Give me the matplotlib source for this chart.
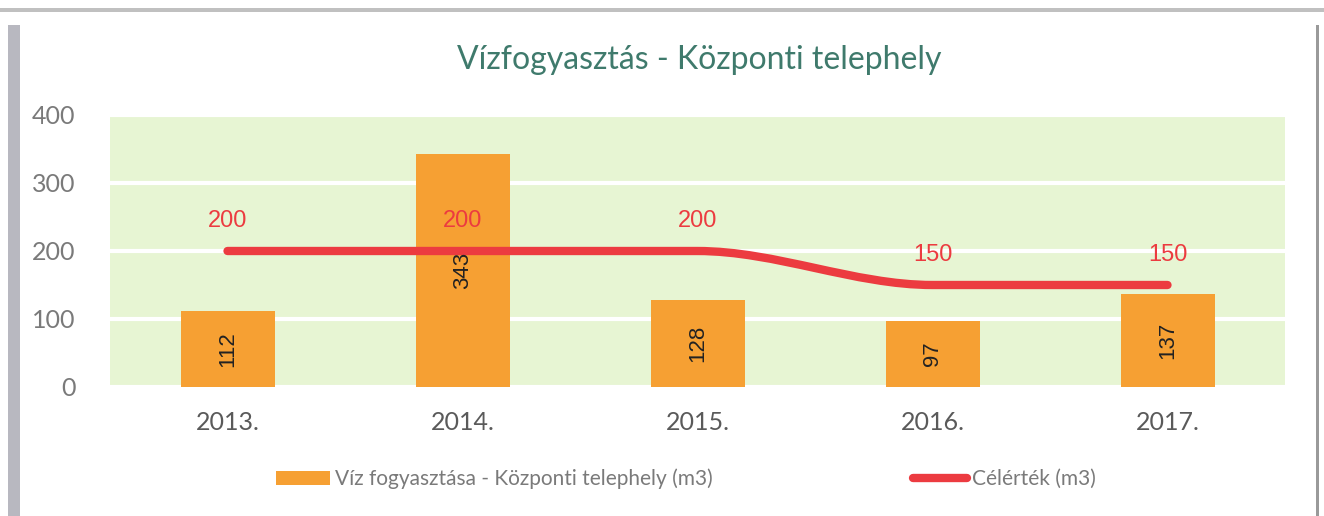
import matplotlib
matplotlib.use("Agg")
import matplotlib.pyplot as plt
from matplotlib.path import Path
from matplotlib.patches import PathPatch, Rectangle
from matplotlib.lines import Line2D
from matplotlib.patches import Patch

categories = ["2013.", "2014.", "2015.", "2016.", "2017."]
consumption = [112, 343, 128, 97, 137]
target = [200, 200, 200, 150, 150]
y_ticks = [0, 100, 200, 300, 400]
title = "Vízfogyasztás - Központi telephely"
bar_label = "Víz fogyasztása - Központi telephely (m3)"
line_label = "Célérték (m3)"

BAR = "#F6A033"
RED = "#EC3B40"
BG = "#E7F5D3"
TXT = "#7a7a7a"
FONT = ["Lato", "DejaVu Sans"]

plt.rcParams['font.family'] = FONT

fig = plt.figure(figsize=(13.24, 5.16), dpi=100)
ax = fig.add_axes([110/1324, 1-387/516, (1285-110)/1324, (387-115)/516])

x = list(range(len(categories)))
ax.set_facecolor(BG)
ax.set_xlim(-0.5, len(categories) - 0.5)
ax.set_ylim(0, 400)
ax.set_yticks(y_ticks)
ax.yaxis.grid(True, color="white", linewidth=3)
ax.set_axisbelow(True)
for s in ax.spines.values():
    s.set_visible(False)
ax.tick_params(length=0)
ax.tick_params(axis="y", pad=25, labelsize=18, labelcolor=TXT)
ax.tick_params(axis="x", pad=17, labelsize=18, labelcolor="#5a5a5a")
ax.set_xticks(x)
ax.set_xticklabels(categories)

ax.bar(x, consumption, width=0.4, color=BAR, zorder=2)
for xi, v in zip(x, consumption):
    ax.text(xi, v / 2, str(v), rotation=90, ha="center", va="center",
            fontsize=16, color="#222222", family=["Liberation Sans", "DejaVu Sans"], zorder=4)

# smoothed target line: monotone cubic Bezier through the data points
n = len(target)
sec = [(target[i + 1] - target[i]) / (x[i + 1] - x[i]) for i in range(n - 1)]
tan = [0.0] * n
tan[0] = sec[0]
tan[-1] = sec[-1]
for i in range(1, n - 1):
    if sec[i - 1] * sec[i] <= 0:
        tan[i] = 0.0
    else:
        tan[i] = (sec[i - 1] + sec[i]) / 2
verts = [(x[0], target[0])]
codes = [Path.MOVETO]
for i in range(n - 1):
    h = x[i + 1] - x[i]
    verts += [(x[i] + h / 3, target[i] + tan[i] * h / 3),
              (x[i + 1] - h / 3, target[i + 1] - tan[i + 1] * h / 3),
              (x[i + 1], target[i + 1])]
    codes += [Path.CURVE4] * 3
ax.add_patch(PathPatch(Path(verts, codes), facecolor="none", edgecolor=RED,
                       linewidth=6, capstyle="round", joinstyle="round", zorder=3))
for xi, v in zip(x, target):
    ax.annotate(str(v), (xi, v), xytext=(0, 14), textcoords="offset points",
                ha="center", va="bottom", fontsize=17, color=RED,
                family=["Liberation Sans", "DejaVu Sans"], zorder=5)

fig.text(0.5285, 1 - 60/516, title, ha="center", va="center", fontsize=23, color="#3f7a6c")

handles = [Patch(facecolor=BAR, edgecolor="none"),
           Line2D([0], [0], color=RED, linewidth=6, solid_capstyle="round")]
leg = fig.legend(handles, [bar_label, line_label], loc="center",
                 bbox_to_anchor=(0.518, 1 - 479/516), ncol=2, frameon=False,
                 fontsize=15, labelcolor=TXT, handlelength=2.6, handletextpad=0.25,
                 columnspacing=9.6)

# scanned page frame
fig.patches.append(Rectangle((8/1324, 0), 12/1324, 1 - 25/516, transform=fig.transFigure,
                             facecolor="#b8b8c0", edgecolor="none"))
fig.patches.append(Rectangle((0, 1 - 12/516), 1, 4/516, transform=fig.transFigure,
                             facecolor="#c0c0c0", edgecolor="none"))
fig.patches.append(Rectangle((1316/1324, 0), 3/1324, 1 - 25/516, transform=fig.transFigure,
                             facecolor="#9a9a9a", edgecolor="none"))

fig.savefig("out.png", dpi=100)
